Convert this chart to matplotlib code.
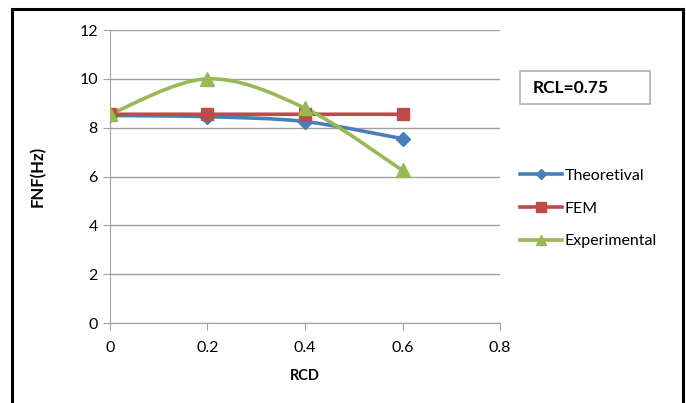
import matplotlib
matplotlib.use("Agg")
import matplotlib.pyplot as plt
from matplotlib.path import Path
from matplotlib.patches import PathPatch, Rectangle
import numpy as np

plt.rcParams['font.family'] = ['Lato', 'DejaVu Sans']

rcd = [0, 0.2, 0.4, 0.6]
theoretical = [8.5, 8.45, 8.25, 7.55]
fem = [8.55, 8.55, 8.55, 8.55]
experimental = [8.55, 10.0, 8.8, 6.25]

series = [
    ("Theoretival", theoretical, "#4A7EBB", "D", 7),
    ("FEM", fem, "#BE4B48", "s", 9),
    ("Experimental", experimental, "#98B954", "^", 10),
]


def smooth_path(x, y):
    # Excel-style smoothed line: cubic Bezier through the points
    p = np.column_stack([x, y]).astype(float)
    n = len(p)
    verts = [p[0]]
    codes = [Path.MOVETO]
    for i in range(n - 1):
        p0 = p[i - 1] if i > 0 else p[i]
        p3 = p[i + 2] if i + 2 < n else p[i + 1]
        c1 = p[i] + (p[i + 1] - p0) / 6
        c2 = p[i + 1] - (p3 - p[i]) / 6
        verts += [c1, c2, p[i + 1]]
        codes += [Path.CURVE4] * 3
    return Path(verts, codes)


fig = plt.figure(figsize=(6.86, 4.03), dpi=100)
ax = fig.add_axes([0.160, 0.1985, 0.569, 0.727])

for name, vals, col, mk, ms in series:
    ax.add_patch(PathPatch(smooth_path(rcd, vals), facecolor='none',
                           edgecolor=col, lw=2.6, zorder=3))
    ax.plot(rcd, vals, linestyle='none', marker=mk, ms=ms, color=col,
            zorder=4)
    ax.plot([], [], color=col, lw=2.6, marker=mk, ms=ms * 0.75, label=name)

ax.set_xlim(0, 0.8)
ax.set_ylim(0, 12)
ax.set_xticks([0, 0.2, 0.4, 0.6, 0.8])
ax.set_xticklabels(['0', '0.2', '0.4', '0.6', '0.8'])
ax.set_yticks(range(0, 13, 2))
ax.yaxis.grid(True, color='#a0a0a0', lw=1)
ax.set_axisbelow(True)
for s in ['top', 'right']:
    ax.spines[s].set_visible(False)
for s in ['left', 'bottom']:
    ax.spines[s].set_color('#a0a0a0')
ax.tick_params(axis='both', colors='#a0a0a0', labelcolor='black',
               labelsize=11.5, length=5, direction='out')
ax.tick_params(axis='x', pad=8)

ax.set_xlabel('RCD', fontsize=10.5, fontweight='bold', labelpad=10)
ax.set_ylabel('FNF(Hz)', fontsize=12, fontweight='bold', labelpad=24)

leg = ax.legend(loc='upper left', bbox_to_anchor=(1.035, 0.548), frameon=False,
                fontsize=11.5, handlelength=2.6, labelspacing=1.15,
                handletextpad=0.2, borderaxespad=0)

fig.patches.append(Rectangle((520 / 686, 1 - 104 / 403), 130 / 686, 33 / 403,
                             transform=fig.transFigure, fc='white',
                             ec='#b0b0b0', lw=1.2))
fig.text(533 / 686, 1 - 88 / 403, 'RCL=0.75', fontsize=12.5,
         fontweight='bold', va='center', ha='left')

fig.patches.append(Rectangle((12 / 686, -0.05), (683 - 12) / 686,
                             1.05 - 9 / 403, transform=fig.transFigure,
                             fill=False, ec='black', lw=2.2))

fig.savefig('out.png', dpi=100)
